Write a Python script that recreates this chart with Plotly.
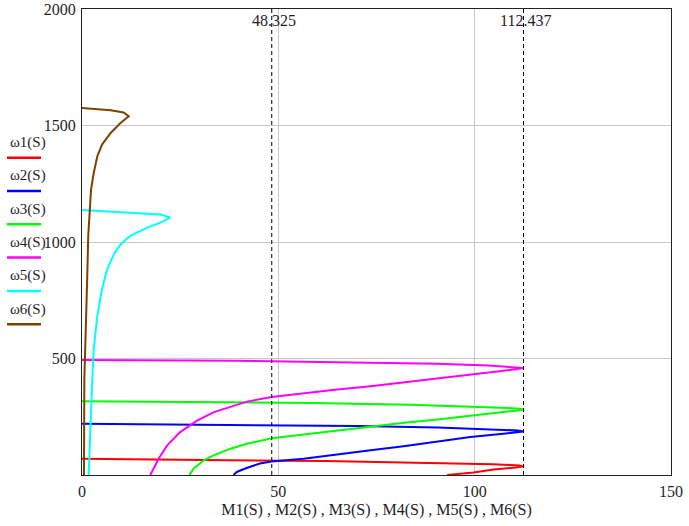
import plotly.graph_objects as go

# Mechanical characteristics omega_i(S) vs torque M_i(S), one curve per supply setting
M1 = [0, 12, 37, 62, 76, 90, 98, 104.5, 109, 111.5, 112.437, 110.5, 107, 104.8, 99.7, 97.2, 93.8, 93.0]
w1 = [70, 67, 63, 60, 56, 53, 50, 46, 43, 41, 37, 32, 27, 24, 11, 8, 2, 0]

M2 = [0, 38, 70, 90.7, 103, 108, 111, 112.437, 110, 107.3, 98.9, 90.4, 81.9, 73.5, 65, 56.4, 48.3, 45.3, 41.9, 39.4, 38.6]
w2 = [220, 216, 210, 204, 198, 194, 191, 187, 182, 177, 163, 142, 123, 106, 87, 70, 58, 49, 30, 13, 0]

M3 = [0, 24, 58.6, 83.6, 99.7, 108.6, 111.5, 112.437, 110.5, 107.5, 99, 90.5, 82, 73.4, 65, 56.5, 48.3, 42, 37.8, 33.5, 31, 28.4, 27.6, 27.4]
w3 = [317, 314, 309, 302, 295, 288, 284, 281, 276, 270, 255.5, 238, 224, 208, 191, 174, 158, 134, 113, 84, 63, 27, 6, 0]

M4 = [0, 39.4, 69, 90.5, 103.6, 110, 112.437, 110.5, 107.5, 99, 90.5, 82, 73.5, 65, 56.5, 48.3, 42, 33.6, 29.4, 25, 21.7, 19.5, 17.8, 17.4]
w4 = [494, 490, 483, 477, 470, 464, 459, 454, 448, 434, 415.5, 398, 381, 367, 351, 335, 315, 270, 234, 184, 127, 70, 13, 0]

M5 = [0, 12.3, 20, 22.5, 20, 16.6, 12.3, 9.8, 8.1, 6.4, 5.1, 3.9, 3.0, 2.6, 2.2, 1.9, 1.7]
w5 = [1137, 1127, 1118, 1105, 1083, 1062, 1026, 990, 947, 883, 798, 683, 541, 405, 255, 113, 0]

M6 = [0, 7.3, 10.6, 11.9, 9.8, 7.3, 5.1, 3.9, 3.0, 2.3, 2.0, 1.6, 1.3, 0.9, 0.6, 0.5]
w6 = [1575, 1565, 1556, 1540, 1511, 1468, 1418, 1368, 1297, 1225, 1140, 1030, 828, 613, 412, 0]

series_names = ["ω1(S)", "ω2(S)", "ω3(S)", "ω4(S)", "ω5(S)", "ω6(S)"]
series_M = [M1, M2, M3, M4, M5, M6]
series_w = [w1, w2, w3, w4, w5, w6]

# marked torque values
marker_values = [48.325, 112.437]
marker_labels = ["48.325", "112.437"]

x_ticks = [0, 50, 100, 150]
y_ticks = [500, 1000, 1500, 2000]
x_title = "M1(S) , M2(S) , M3(S) , M4(S) , M5(S) , M6(S)"

colors = ["#ff0000", "#0000ff", "#00ff00", "#ff00ff", "#00ffff", "#804000"]
FONT = "Liberation Serif"
FS = 16
FS_LEG = 15
TXT = "#1e1e28"

W, H = 689, 526
L, R, T, B = 82, 18, 9, 51
PW, PH = W - L - R, H - T - B


def px_to_paper(px, py):
    return (px - L) / PW, (H - B - py) / PH


fig = go.Figure()
for name, mx, wy, c in zip(series_names, series_M, series_w, colors):
    fig.add_trace(go.Scatter(x=mx, y=wy, mode="lines", name=name,
                             line=dict(color=c, width=2), showlegend=False))

shapes = []
annotations = []
for v, lab in zip(marker_values, marker_labels):
    shapes.append(dict(type="line", xref="x", yref="paper", x0=v, x1=v, y0=0, y1=1,
                       line=dict(color="black", width=1, dash="4px,3px"), layer="above"))
    annotations.append(dict(x=v, xref="x", y=1, yref="paper", text=lab, showarrow=False,
                            xanchor="center", yanchor="top", xshift=2, yshift=-1,
                            font=dict(family=FONT, size=FS, color=TXT)))

# legend block at the left edge: label with a colour sample underneath
for i, (name, c) in enumerate(zip(series_names, colors)):
    ty = 142.5 + i * 33.3
    ly = 157.7 + i * 33.3
    ax, ay = px_to_paper(8, ty)
    annotations.append(dict(x=ax, y=ay, xref="paper", yref="paper", text=name,
                            showarrow=False, xanchor="left", yanchor="middle",
                            font=dict(family=FONT, size=FS_LEG, color=TXT)))
    x0, y0 = px_to_paper(7, ly)
    x1, _ = px_to_paper(41, ly)
    shapes.append(dict(type="line", xref="paper", yref="paper", x0=x0, x1=x1, y0=y0, y1=y0,
                       line=dict(color=c, width=2.5)))

fig.update_layout(
    width=W, height=H,
    margin=dict(l=L, r=R, t=T, b=B, autoexpand=False),
    paper_bgcolor="white", plot_bgcolor="white",
    font=dict(family=FONT, size=FS, color=TXT),
    shapes=shapes, annotations=annotations,
)
fig.update_xaxes(range=[0, 150], tickvals=x_ticks, ticktext=[str(t) for t in x_ticks],
                 showgrid=True, gridcolor="#c8c8c8", gridwidth=1, zeroline=False,
                 showline=True, linecolor="#222", linewidth=1, mirror=True,
                 ticks="", ticklabelstandoff=2, automargin=False,
                 title=dict(text=x_title, standoff=4, font=dict(family=FONT, size=FS, color=TXT)))
fig.update_yaxes(range=[0, 2000], tickvals=y_ticks, ticktext=[str(t) for t in y_ticks],
                 showgrid=True, gridcolor="#c8c8c8", gridwidth=1, zeroline=False,
                 showline=True, linecolor="#222", linewidth=1, mirror=True,
                 ticks="", ticklabelstandoff=2, automargin=False)

fig.write_html("out.html")
